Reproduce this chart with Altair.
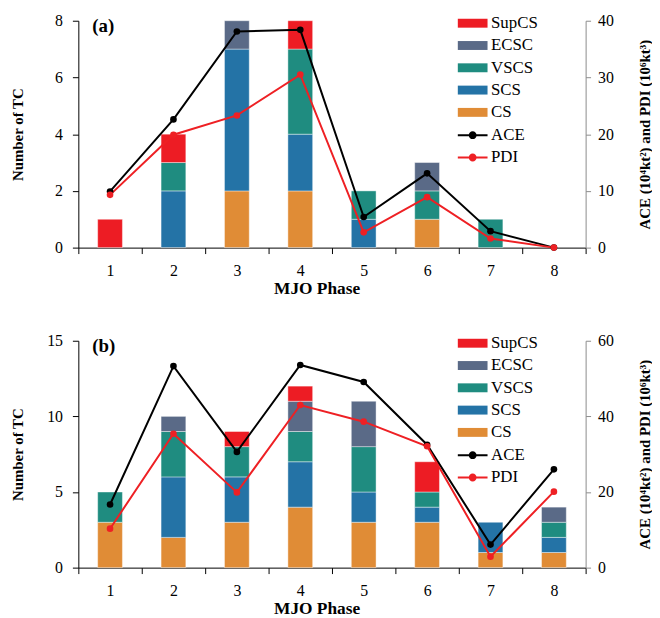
import altair as alt
import pandas as pd

# ---------------- data ----------------
phases = [1, 2, 3, 4, 5, 6, 7, 8]
classes = ["SupCS", "ECSC", "VSCS", "SCS", "CS"]
class_colors = ["#ED1C24", "#5A6A87", "#1F8C80", "#2473A6", "#E08C36"]
stack_order = ["CS", "SCS", "VSCS", "ECSC", "SupCS"]
series = ["ACE", "PDI"]
series_colors = ["#000000", "#EE2024"]

# panel (a)
a_CS = [0, 0, 2, 2, 0, 1, 0, 0]
a_SCS = [0, 2, 5, 2, 1, 0, 0, 0]
a_VSCS = [0, 1, 0, 3, 1, 1, 1, 0]
a_ECSC = [0, 0, 1, 0, 0, 1, 0, 0]
a_SupCS = [1, 1, 0, 1, 0, 0, 0, 0]
a_ACE = [9.9, 22.6, 38.1, 38.4, 5.4, 13.1, 2.9, 0.0]
a_PDI = [9.3, 19.9, 23.3, 30.5, 2.7, 8.9, 1.6, 0.0]
a_left_ticks = [0, 2, 4, 6, 8]
a_right_ticks = [0, 10, 20, 30, 40]

# panel (b)
b_CS = [3, 2, 3, 4, 3, 3, 1, 1]
b_SCS = [0, 4, 3, 3, 2, 1, 2, 1]
b_VSCS = [2, 3, 2, 2, 3, 1, 0, 1]
b_ECSC = [0, 1, 0, 2, 3, 0, 0, 1]
b_SupCS = [0, 0, 1, 1, 0, 2, 0, 0]
b_ACE = [16.7, 53.3, 30.6, 53.6, 49.1, 32.5, 6.1, 26.0]
b_PDI = [10.3, 35.4, 19.9, 43.0, 38.6, 32.1, 2.9, 20.1]
b_left_ticks = [0, 5, 10, 15]
b_right_ticks = [0, 20, 40, 60]

FONT = "Liberation Serif"
W, H = 512, 229

BAR_SYMBOL = "M-2,-0.6H2V0.6H-2Z"
LINE_SYMBOL = ("M-2,-0.14H2V0.14H-2Z "
               "M0.53,0A0.53,0.53 0 1,1 -0.53,0A0.53,0.53 0 1,1 0.53,0Z")


def panel(tag, counts, ace, pdi, left_ticks, right_ticks):
    rows = []
    for cls in stack_order:
        for p, n in zip(phases, counts[cls]):
            if n > 0:
                rows.append({"phase": p, "cls": cls, "n": n,
                             "ord": stack_order.index(cls)})
    bars_df = pd.DataFrame(rows)

    lrows = []
    for s, vals in (("ACE", ace), ("PDI", pdi)):
        for p, v in zip(phases, vals):
            lrows.append({"phase": p, "s": s, "v": v})
    lines_df = pd.DataFrame(lrows)

    x = alt.X(
        "phase:O",
        scale=alt.Scale(domain=phases, paddingInner=0, paddingOuter=0),
        axis=alt.Axis(
            title="MJO Phase", labelAngle=0, tickBand="extent",
            tickSize=6, labelPadding=9, titleFontSize=17.5,
            titleX=240.5, titleY=32,
        ),
    )

    bars = alt.Chart(bars_df).mark_bar(
        size=25, stroke="white", strokeWidth=0.6, strokeOpacity=0.7
    ).encode(
        x=x,
        y=alt.Y(
            "n:Q", stack="zero",
            scale=alt.Scale(domain=[left_ticks[0], left_ticks[-1]], nice=False),
            axis=alt.Axis(
                values=left_ticks, title="Number of TC", tickSize=6,
                labelPadding=10, titleFontSize=15, titleX=-53, titleY=H / 2,
            ),
        ),
        color=alt.Color(
            "cls:N",
            scale=alt.Scale(domain=classes, range=class_colors),
            legend=alt.Legend(
                title=None, orient="none", legendX=389.5, legendY=-6,
                symbolType=BAR_SYMBOL, symbolSize=225, symbolStrokeWidth=0,
                symbolOpacity=1, labelOffset=10, rowPadding=4.5, padding=0,
                labelFontSize=17,
            ),
        ),
        order=alt.Order("ord:Q", sort="ascending"),
    )

    y_r = alt.Y(
        "v:Q",
        scale=alt.Scale(domain=[right_ticks[0], right_ticks[-1]], nice=False),
        axis=alt.Axis(
            orient="right", values=right_ticks,
            title="ACE (10⁴kt²) and PDI (10⁶kt³)",
            tickSize=5, labelPadding=7, titleFontSize=15,
            titleAngle=270, titleBaseline="top", titleX=52, titleY=H / 2,
            domainColor="#8C8C8C", tickColor="#8C8C8C",
        ),
    )

    base = alt.Chart(lines_df)
    line_ace = base.transform_filter("datum.s == 'ACE'").mark_line(
        color=series_colors[0], strokeWidth=2
    ).encode(x=x, y=y_r)
    line_pdi = base.transform_filter("datum.s == 'PDI'").mark_line(
        color=series_colors[1], strokeWidth=2
    ).encode(x=x, y=y_r)
    pts = base.mark_circle(size=45, opacity=1).encode(
        x=x,
        y=y_r,
        color=alt.Color(
            "s:N",
            scale=alt.Scale(domain=series, range=series_colors),
            legend=alt.Legend(
                title=None, orient="none", legendX=389.5, legendY=107,
                symbolType=LINE_SYMBOL, symbolSize=225, symbolStrokeWidth=0,
                symbolOpacity=1, labelOffset=10, rowPadding=4.5, padding=0,
                labelFontSize=17,
            ),
        ),
    )
    right = alt.layer(line_ace, line_pdi, pts)

    label = alt.Chart(pd.DataFrame({"t": [tag]})).mark_text(
        font=FONT, fontSize=19, fontWeight="bold", align="left",
        baseline="middle", color="black",
    ).encode(x=alt.value(14), y=alt.value(5), text="t:N")

    return alt.layer(bars, right, label).resolve_scale(
        y="independent", color="independent"
    ).properties(width=W, height=H)


pa = panel(
    "(a)",
    {"CS": a_CS, "SCS": a_SCS, "VSCS": a_VSCS, "ECSC": a_ECSC, "SupCS": a_SupCS},
    a_ACE, a_PDI, a_left_ticks, a_right_ticks,
)
pb = panel(
    "(b)",
    {"CS": b_CS, "SCS": b_SCS, "VSCS": b_VSCS, "ECSC": b_ECSC, "SupCS": b_SupCS},
    b_ACE, b_PDI, b_left_ticks, b_right_ticks,
)

chart = alt.vconcat(pa, pb, spacing=36).properties(
    padding={"left": 3, "top": 2, "right": 0, "bottom": 0}
).configure(font=FONT).configure_view(strokeWidth=0).configure_axis(
    labelFont=FONT, labelFontSize=16, labelColor="black",
    titleFont=FONT, titleFontWeight="bold", titleColor="black",
    domainColor="black", tickColor="black", grid=False,
).configure_legend(
    labelFont=FONT, labelFontSize=17, labelColor="black",
)

chart.save("out.html", embed_options={"renderer": "svg", "actions": False})
